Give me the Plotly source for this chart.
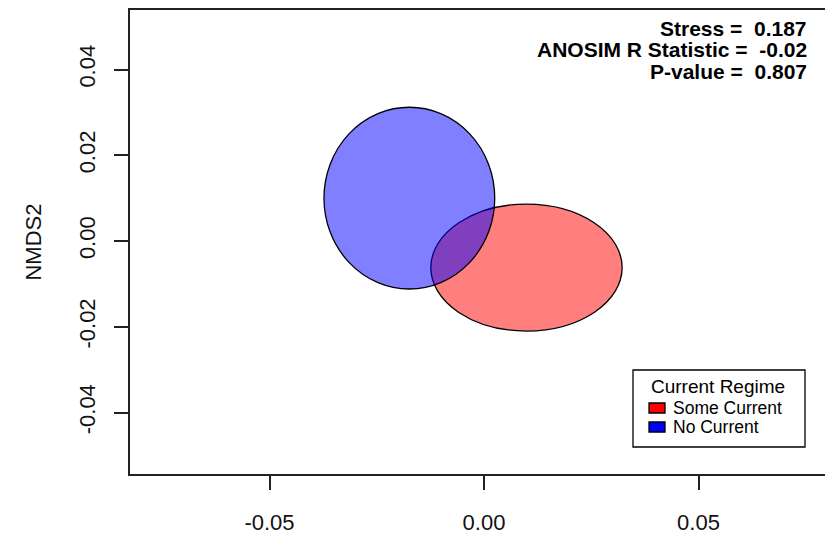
import plotly.graph_objects as go

# ---- data ----
groups = ["Some Current", "No Current"]
group_colors = ["rgba(255,0,0,0.5)", "rgba(0,0,255,0.5)"]
legend_colors = ["#FF0000", "#0000FF"]
center_x = [0.0099, -0.0174]
center_y = [-0.0062, 0.0100]
semi_x = [0.0223, 0.0199]
semi_y = [0.0148, 0.0212]
x_ticks = [-0.05, 0.00, 0.05]
x_ticklabels = ["-0.05", "0.00", "0.05"]
y_ticks = [-0.04, -0.02, 0.00, 0.02, 0.04]
y_ticklabels = ["-0.04", "-0.02", "0.00", "0.02", "0.04"]
stats_labels = ["Stress =  0.187", "ANOSIM R Statistic =  -0.02", "P-value =  0.807"]
legend_title = "Current Regime"

W, H = 825, 535
L, T, B, R = 130, 10, 61, 0
PW, PH = W - L - R, H - T - B

def px(x):
    return (x - L) / PW

def py(y):
    return (H - B - y) / PH

FONT = "Liberation Sans, Arial, sans-serif"

fig = go.Figure()
fig.add_trace(go.Scatter(x=[None], y=[None], mode="markers", showlegend=False, hoverinfo="skip"))

shapes = []
for i in range(len(groups)):
    shapes.append(dict(type="circle", xref="x", yref="y",
                       x0=center_x[i] - semi_x[i], x1=center_x[i] + semi_x[i],
                       y0=center_y[i] - semi_y[i], y1=center_y[i] + semi_y[i],
                       fillcolor=group_colors[i], line=dict(color="black", width=1.3),
                       layer="above"))

# legend box
shapes.append(dict(type="rect", xref="paper", yref="paper",
                   x0=px(633), x1=px(805), y0=py(447), y1=py(370),
                   fillcolor="white", line=dict(color="black", width=1.3)))
annotations = []
annotations.append(dict(xref="paper", yref="paper", x=px(718), y=py(386), text=legend_title,
                        showarrow=False, xanchor="center", yanchor="middle",
                        font=dict(family=FONT, size=19, color="black")))
sq_top = [403, 422]
for i, g in enumerate(groups):
    shapes.append(dict(type="rect", xref="paper", yref="paper",
                       x0=px(649), x1=px(665), y0=py(sq_top[i] + 10), y1=py(sq_top[i]),
                       fillcolor=legend_colors[i], line=dict(color="black", width=1.3)))
    annotations.append(dict(xref="paper", yref="paper", x=px(671), y=py(sq_top[i] + 5), text=g,
                            showarrow=False, xanchor="left", yanchor="middle",
                            font=dict(family=FONT, size=17.5, color="black")))

stat_y = [29, 50, 71]
for s, yy in zip(stats_labels, stat_y):
    annotations.append(dict(xref="paper", yref="paper", x=px(809), y=py(yy), text="<b>" + s + "</b>",
                            showarrow=False, xanchor="right", yanchor="middle",
                            font=dict(family=FONT, size=21, color="black")))

x_per_px = 0.05 / 214.5
y_per_px = 0.04 / 171.5
x_lo = 0.0 - (484 - L) * x_per_px
x_hi = 0.0 + (W - R - 484) * x_per_px
y_hi = 0.0 + (241 - T) * y_per_px
y_lo = 0.0 - (H - B - 241) * y_per_px

fig.update_layout(
    width=W, height=H,
    margin=dict(l=L, r=R, t=T, b=B, pad=0),
    paper_bgcolor="white", plot_bgcolor="white",
    showlegend=False,
    shapes=shapes, annotations=annotations,
    font=dict(family=FONT, size=22, color="black"),
    xaxis=dict(range=[x_lo, x_hi], tickvals=x_ticks, ticktext=x_ticklabels,
               showgrid=False, zeroline=False, showline=True, linecolor="#222", linewidth=1.5,
               mirror=True, ticks="outside", ticklen=14, tickwidth=1.5, tickcolor="#222",
               ticklabelstandoff=14, tickfont=dict(size=22, color="#111")),
    yaxis=dict(range=[y_lo, y_hi], tickvals=y_ticks, ticktext=y_ticklabels,
               showgrid=False, zeroline=False, showline=True, linecolor="#222", linewidth=1.5,
               mirror=False, ticks="outside", ticklen=14, tickwidth=1.5, tickcolor="#222",
               tickangle=-90, ticklabelstandoff=10, tickfont=dict(size=22, color="#111")),
)
fig.update_yaxes(title=dict(text="NMDS2", standoff=28, font=dict(size=22, color="#111")))

fig.write_html("out.html")
